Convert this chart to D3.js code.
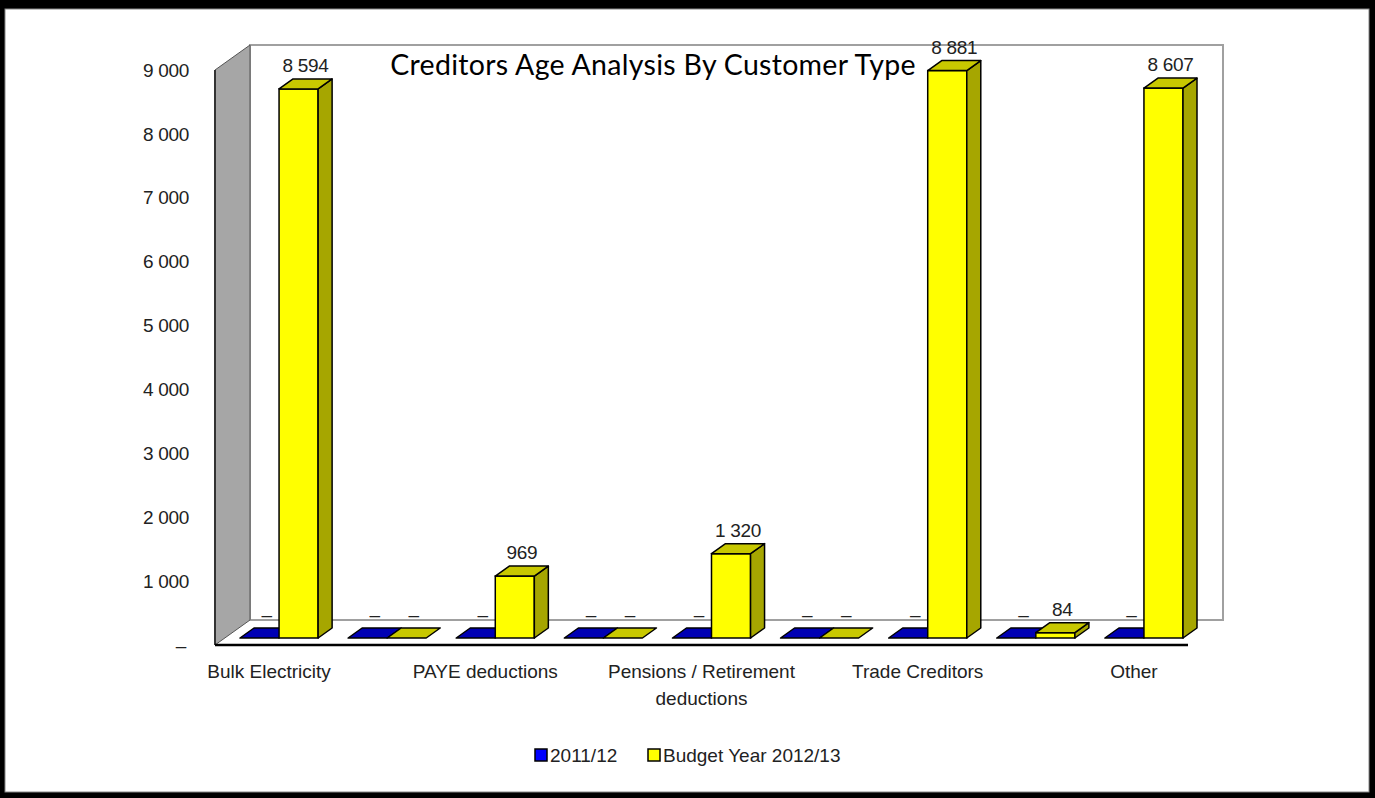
<!DOCTYPE html>
<html>
<head>
<meta charset="utf-8">
<script src="https://cdn.jsdelivr.net/npm/d3@7"></script>
<style>
  body { margin: 0; background: #000; }
  svg text { font-family: "Liberation Sans", Arial, sans-serif; fill: #222; font-size: 19px; }
  .title { font-family: Lato, "Open Sans", sans-serif; fill: #000; }
</style>
</head>
<body>
<div class="js-vis"></div>
<script>
const categories = [
  'Bulk Electricity', 'Bulk Water', 'PAYE deductions', 'VAT (output less input)',
  'Pensions / Retirement deductions', 'Loan repayments', 'Trade Creditors',
  'Auditor General', 'Other'
]
const series = ['2011/12', 'Budget Year 2012/13']
const prior = [0, 0, 0, 0, 0, 0, 0, 0, 0]
const budget = [8594, 0, 969, 0, 1320, 0, 8881, 84, 8607]
const yTicks = [0, 1000, 2000, 3000, 4000, 5000, 6000, 7000, 8000, 9000]

const W = 1375, H = 798

// front plane of the floor, and how far the walls go back
const front = { left: 215, right: 1188, bottom: 645, top: 70 },
    depth = { dx: 35, dy: -25 },
    barShift = { dx: 10, dy: -7 },
    barDepth = { dx: 14, dy: -10 }

const colors = {
  '2011/12': { front: '#0000ff', top: '#0000b4', side: '#00007a' },
  'Budget Year 2012/13': { front: '#ffff00', top: '#c8c800', side: '#a6a600' }
}

const fmt = v => v === 0 ? '\u2013' : d3.format(',')(v).replace(/,/g, ' ')

const svg = d3.select('.js-vis').append('svg')
    .attr('width', W)
    .attr('height', H)
    .style('display', 'block')

svg.append('rect')
    .attr('width', W).attr('height', H)
    .attr('fill', '#000')

svg.append('rect')
    .attr('x', 5).attr('y', 9)
    .attr('width', 1364).attr('height', 783)
    .attr('fill', '#fff')
    .attr('stroke', '#888')
    .attr('stroke-width', 1)

const y = d3.scaleLinear()
    .domain([0, 9000])
    .range([front.bottom, front.top])

const x = d3.scaleBand()
    .domain(categories)
    .range([front.left, front.right])

const xs = d3.scaleBand()
    .domain(series)
    .range([15, x.bandwidth() - 15])

const pts = a => a.map(p => p.join(',')).join(' ')

// back wall
svg.append('rect')
    .attr('x', front.left + depth.dx)
    .attr('y', front.top + depth.dy)
    .attr('width', front.right - front.left)
    .attr('height', front.bottom - front.top)
    .attr('fill', '#fff')
    .attr('stroke', '#a0a0a0')
    .attr('stroke-width', 2)

// floor
svg.append('polygon')
    .attr('points', pts([
      [front.left, front.bottom], [front.right, front.bottom],
      [front.right + depth.dx, front.bottom + depth.dy],
      [front.left + depth.dx, front.bottom + depth.dy]
    ]))
    .attr('fill', '#fff')

svg.append('line')
    .attr('x1', front.left + depth.dx).attr('x2', front.right + depth.dx)
    .attr('y1', front.bottom + depth.dy).attr('y2', front.bottom + depth.dy)
    .attr('stroke', '#a0a0a0')
    .attr('stroke-width', 2)

// left wall
svg.append('polygon')
    .attr('points', pts([
      [front.left, front.top], [front.left + depth.dx, front.top + depth.dy],
      [front.left + depth.dx, front.bottom + depth.dy], [front.left, front.bottom]
    ]))
    .attr('fill', '#a6a6a6')
    .attr('stroke', '#555')
    .attr('stroke-width', 1)

svg.append('line')
    .attr('x1', front.left).attr('x2', front.left)
    .attr('y1', front.top).attr('y2', front.bottom)
    .attr('stroke', '#333')
    .attr('stroke-width', 2)

// front edge of floor
svg.append('line')
    .attr('x1', front.left).attr('x2', front.right)
    .attr('y1', front.bottom).attr('y2', front.bottom)
    .attr('stroke', '#000')
    .attr('stroke-width', 2.5)

// y axis labels
svg.append('g').selectAll('text')
    .data(yTicks)
  .enter().append('text')
    .attr('x', d => d === 0 ? 186 : 189)
    .attr('y', d => y(d))
    .attr('dy', '0.35em')
    .attr('text-anchor', 'end')
    .style('letter-spacing', '-0.3px')
    .text(fmt)

// bars
const rows = []
categories.forEach((c, i) => {
  rows.push({ cat: c, s: series[0], v: prior[i] })
  rows.push({ cat: c, s: series[1], v: budget[i] })
})

svg.append('g').selectAll('.bar')
    .data(rows)
  .enter().append('g')
    .attr('class', 'bar')
    .each(function(d) {
      const g = d3.select(this),
          x0 = x(d.cat) + xs(d.s) + barShift.dx,
          w = xs.bandwidth(),
          yb = y(0) + barShift.dy,
          yt = y(d.v) + barShift.dy,
          c = colors[d.s]
      if (d.v > 0) {
        g.append('rect')
            .attr('x', x0).attr('y', yt)
            .attr('width', w).attr('height', yb - yt)
            .attr('fill', c.front)
            .attr('stroke', '#000').attr('stroke-width', 1.5)
        g.append('polygon')
            .attr('points', pts([
              [x0 + w, yt], [x0 + w + barDepth.dx, yt + barDepth.dy],
              [x0 + w + barDepth.dx, yb + barDepth.dy], [x0 + w, yb]
            ]))
            .attr('fill', c.side)
            .attr('stroke', '#000').attr('stroke-width', 1.5)
            .attr('stroke-linejoin', 'round')
      }
      g.append('polygon')
          .attr('points', pts([
            [x0, yt], [x0 + w, yt],
            [x0 + w + barDepth.dx, yt + barDepth.dy], [x0 + barDepth.dx, yt + barDepth.dy]
          ]))
          .attr('fill', c.top)
          .attr('stroke', '#000').attr('stroke-width', 1.5)
          .attr('stroke-linejoin', 'round')
      g.append('text')
          .attr('x', x0 + w / 2 + barDepth.dx / 2)
          .attr('y', yt + barDepth.dy - 7)
          .attr('text-anchor', 'middle')
          .style('letter-spacing', '-0.3px')
          .text(fmt(d.v))
    })

// category labels, every second one like the original
const catLabels = svg.append('g').selectAll('text')
    .data(categories.filter((d, i) => i % 2 === 0))
  .enter().append('text')
    .attr('x', d => x(d) + x.bandwidth() / 2)
    .attr('y', 678)
    .attr('text-anchor', 'middle')

catLabels.each(function(d) {
  const t = d3.select(this),
      words = d.split(' '),
      maxW = x.bandwidth() * 2
  let line = []
  let ts = t.append('tspan').attr('x', t.attr('x')).attr('dy', 0)
  words.forEach(wd => {
    line.push(wd)
    ts.text(line.join(' '))
    if (ts.node().getComputedTextLength() > maxW && line.length > 1) {
      line.pop()
      ts.text(line.join(' '))
      line = [wd]
      ts = t.append('tspan').attr('x', t.attr('x')).attr('dy', '1.4em').text(wd)
    }
  })
})

// title
svg.append('text')
    .attr('class', 'title')
    .attr('x', 653)
    .attr('y', 75)
    .attr('text-anchor', 'middle')
    .style('font-size', '28.5px')
    .style('letter-spacing', '0.3px')
    .text('Creditors Age Analysis By Customer Type')

// legend
const legend = svg.append('g')
    .attr('transform', 'translate(535,755)')

const legendX = [0, 113]
series.forEach((s, i) => {
  legend.append('rect')
      .attr('x', legendX[i]).attr('y', -6)
      .attr('width', 12).attr('height', 12)
      .attr('fill', colors[s].front)
      .attr('stroke', '#000').attr('stroke-width', 1.5)
  legend.append('text')
      .attr('x', legendX[i] + 15)
      .attr('y', 0)
      .attr('dy', '0.35em')
      .text(s)
})
</script>
</body>
</html>
